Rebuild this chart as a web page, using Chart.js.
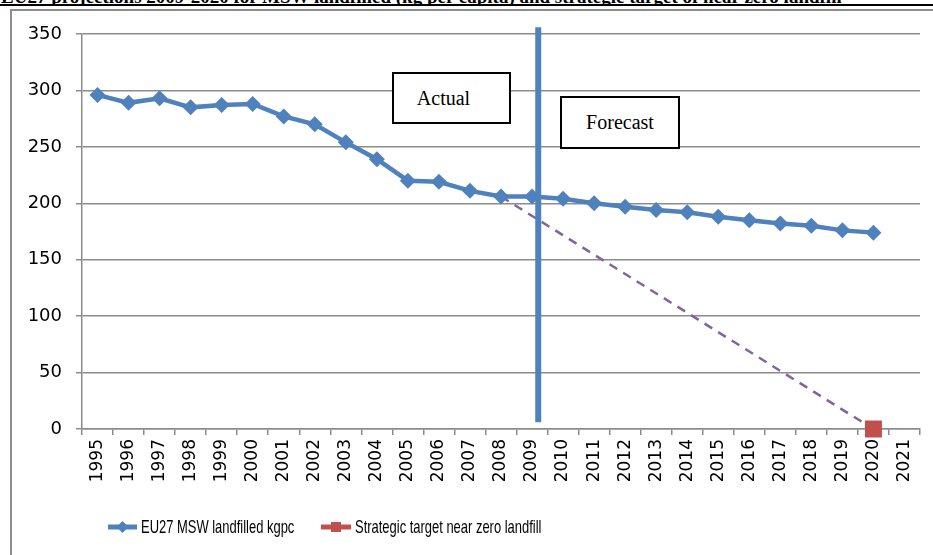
<!DOCTYPE html>
<html>
<head>
<meta charset="UTF-8">
<script src="https://cdn.jsdelivr.net/npm/chart.js"></script>
<style>
  body { margin: 0; background: #fff; width: 933px; height: 555px; overflow: hidden; position: relative; }
  #title {
    position: absolute; left: 0; top: 0; width: 933px; height: 4px; overflow: hidden;
  }
  #title span {
    position: absolute; left: 1px; top: -13px; white-space: nowrap;
    font-family: "Liberation Serif", serif; font-weight: bold; font-size: 19px; line-height: 19px;
  }
  #rule { position: absolute; left: 0; top: 4px; width: 933px; height: 2px; background: #000; }
  #frame {
    position: absolute; left: 10px; top: 9px; width: 1000px; height: 1000px;
    border: 2px solid #8c8c8c; box-sizing: border-box;
  }
  #wrap { position: absolute; left: 0; top: 0; width: 933px; height: 555px; }
  .note {
    position: absolute; background: #fff; border: 2px solid #000; box-sizing: border-box;
    font-family: "Liberation Serif", serif; font-size: 20px; color: #000;
    display: flex; align-items: center; justify-content: center;
  }
</style>
</head>
<body>
<div id="title"><span>EU27 projections 2009-2020 for MSW landfilled (kg per capita) and strategic target of near zero landfill</span></div>
<div id="rule"></div>
<div id="frame"></div>
<div id="wrap"><canvas id="c" width="933" height="555"></canvas></div>
<div class="note" style="left:392px; top:72px; width:119px; height:52px; padding-right:16px;">Actual</div>
<div class="note" style="left:560px; top:96px; width:120px; height:53px;">Forecast</div>
<script>
// years on the x axis
const years = ['1995','1996','1997','1998','1999','2000','2001','2002','2003','2004','2005','2006','2007',
  '2008','2009','2010','2011','2012','2013','2014','2015','2016','2017','2018','2019','2020','2021'];

// EU27 MSW landfilled, kg per capita (actual up to 2008, forecast after)
const landfilled = [296, 289, 293, 285, 287, 288, 277, 270, 254, 239, 220, 219, 211,
  206, 206, 204, 200, 197, 194, 192, 188, 185, 182, 180, 176, 174, null];

// strategic target: near zero in 2020
const target = [null, null, null, null, null, null, null, null, null, null, null, null, null,
  null, null, null, null, null, null, null, null, null, null, null, null, 0, null];

// dashed path from 2008 down to the target
const pathToTarget = [null, null, null, null, null, null, null, null, null, null, null, null, null,
  206, null, null, null, null, null, null, null, null, null, null, null, 0, null];

const yTicks = [0, 50, 100, 150, 200, 250, 300, 350];

const BLUE = '#4f81bd';
const RED = '#c0504d';
const PURPLE = '#8064a2';
const GRID = '#8c8c8c';

// vertical split between actual and forecast (just after 2009)
const splitPlugin = {
  id: 'split',
  afterDatasetsDraw(chart) {
    const x = chart.scales.x.getPixelForValue(14.2);
    const y = chart.scales.y;
    const ctx = chart.ctx;
    ctx.save();
    ctx.strokeStyle = BLUE;
    ctx.lineWidth = 6;
    ctx.beginPath();
    ctx.moveTo(x, y.getPixelForValue(356));
    ctx.lineTo(x, y.getPixelForValue(6));
    ctx.stroke();
    ctx.restore();
  }
};

// Excel-like legend: line with marker, then a narrow label
const legendPlugin = {
  id: 'xlLegend',
  afterDraw(chart) {
    const ctx = chart.ctx;
    const items = [
      { ds: chart.data.datasets[0], x: 108, w: 29 },
      { ds: chart.data.datasets[1], x: 321, w: 30 }
    ];
    const cy = 527;
    ctx.save();
    items.forEach(it => {
      const color = it.ds.borderColor;
      ctx.strokeStyle = color;
      ctx.fillStyle = color;
      ctx.lineWidth = 5;
      ctx.beginPath();
      ctx.moveTo(it.x, cy);
      ctx.lineTo(it.x + it.w, cy);
      ctx.stroke();
      const mx = it.x + it.w / 2;
      ctx.beginPath();
      if (it.ds.pointStyle === 'rectRot') {
        ctx.moveTo(mx, cy - 6); ctx.lineTo(mx + 6, cy); ctx.lineTo(mx, cy + 6); ctx.lineTo(mx - 6, cy);
      } else {
        ctx.rect(mx - 5, cy - 5, 10, 10);
      }
      ctx.closePath();
      ctx.fill();
      // condensed text, like the original Calibri
      ctx.save();
      ctx.translate(it.x + it.w + 4, cy + 1);
      ctx.scale(0.7, 1);
      ctx.fillStyle = '#000';
      ctx.font = '18.5px "Liberation Sans", sans-serif';
      ctx.textBaseline = 'middle';
      ctx.fillText(it.ds.label, 0, 0);
      ctx.restore();
    });
    ctx.restore();
  }
};

new Chart(document.getElementById('c'), {
  type: 'line',
  data: {
    labels: years,
    datasets: [
      {
        label: 'EU27 MSW landfilled kgpc',
        data: landfilled,
        borderColor: BLUE,
        backgroundColor: BLUE,
        borderWidth: 4.5,
        pointStyle: 'rectRot',
        pointRadius: 8,
        pointBorderWidth: 0,
        tension: 0,
        clip: false,
        order: 1
      },
      {
        label: 'Strategic target near zero landfill',
        data: target,
        borderColor: RED,
        backgroundColor: RED,
        showLine: false,
        pointStyle: 'rect',
        pointRadius: 12,
        pointBorderWidth: 0,
        clip: false,
        order: 0
      },
      {
        label: 'path',
        data: pathToTarget,
        borderColor: PURPLE,
        borderWidth: 2.5,
        borderDash: [9, 7],
        spanGaps: true,
        pointRadius: 0,
        clip: false,
        order: 2
      }
    ]
  },
  options: {
    responsive: false,
    animation: false,
    devicePixelRatio: 1,
    layout: { padding: { left: 10, top: 34, right: 13, bottom: 0 } },
    plugins: { legend: { display: false }, tooltip: { enabled: false } },
    scales: {
      x: {
        offset: true,
        grid: { offset: true, drawOnChartArea: false, drawTicks: true, tickLength: 6, color: GRID, lineWidth: 1.5 },
        border: { display: true, color: GRID, width: 1.5 },
        ticks: {
          autoSkip: false, minRotation: 90, maxRotation: 90, padding: 4,
          color: '#000', font: { family: '"DejaVu Sans"', size: 17 }
        },
        afterFit(scale) { scale.height = 126; }
      },
      y: {
        min: 0, max: 350,
        afterBuildTicks(scale) { scale.ticks = yTicks.map(v => ({ value: v })); },
        grid: { color: GRID, lineWidth: 1.5, tickLength: 6 },
        border: { display: true, color: GRID, width: 1.5 },
        ticks: { padding: 14, color: '#000', font: { family: '"DejaVu Sans"', size: 18 } },
        afterFit(scale) { scale.width = 72; }
      }
    }
  },
  plugins: [splitPlugin, legendPlugin]
});
</script>
</body>
</html>
